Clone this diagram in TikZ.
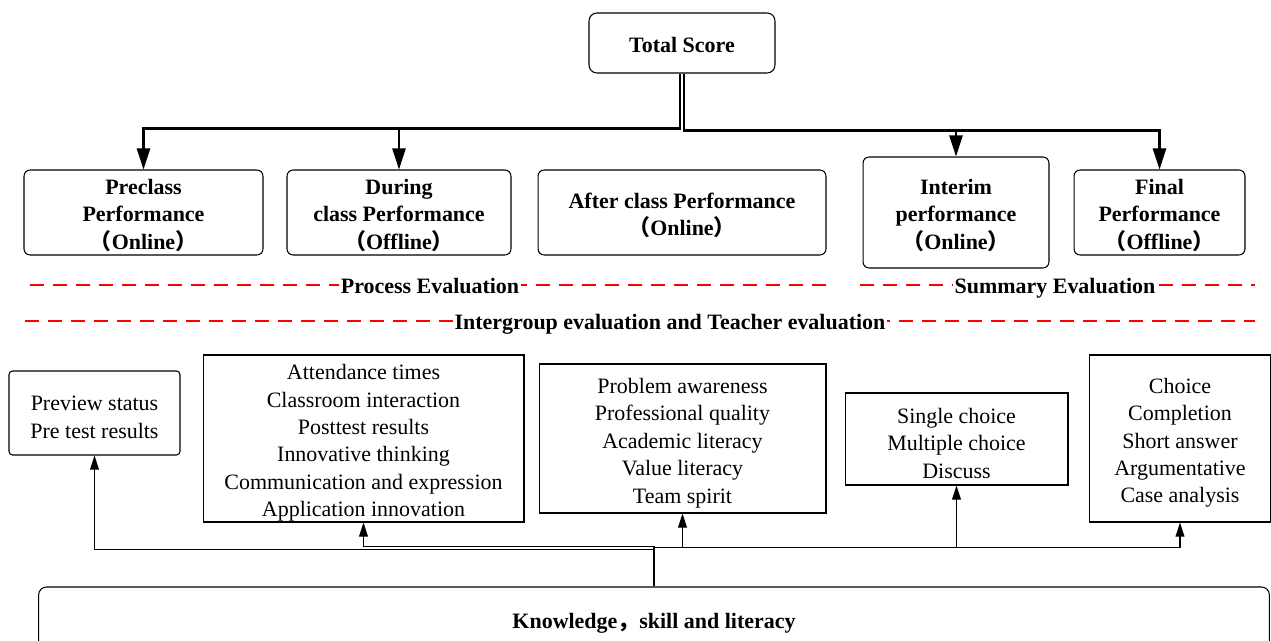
\documentclass[tikz,border=0pt]{standalone}
\usepackage{fontspec}
\setmainfont{Liberation Serif}
\newfontfamily\cjk{Noto Sans CJK SC}
\usetikzlibrary{arrows.meta, positioning}
\newcommand{\figfont}{\fontsize{12.5pt}{15.6pt}\selectfont}
\newcommand{\flp}{{\cjk （}}
\newcommand{\frp}{{\cjk ）}}
% taller first line, so the lines sit a little low in their box
\newcommand{\textdrop}[1]{\rule{0pt}{#1}}
\tikzset{%
  sink/.style={execute at begin node={\rule{0pt}{#1}}},
  topblock/.style={rectangle, draw, line width=0.6pt, rounded corners=3.5pt, align=center, inner sep=0pt, font=\figfont\bfseries},
  listblock/.style={rectangle, draw, line width=0.6pt, align=center, inner sep=0pt, font=\figfont},
  banner/.style={fill=white, inner sep=1pt, font=\figfont\bfseries},
  redline/.style={draw, red, line width=1.1pt, dash pattern=on 0.28cm off 0.18cm},
  trunk/.style={draw, line width=1.2pt, -{Triangle[length=12pt, width=7.5pt]}},
  upline/.style={draw, line width=0.6pt, -{Triangle[length=8pt, width=5pt]}}}

\begin{document}
\begin{tikzpicture}[x=0.02cm, y=-0.02cm]
    \useasboundingbox (0,0) rectangle (1271,641);
    \clip (0,0) rectangle (1271,641);

    % score and the five parts
    \node [topblock, sink=10.9pt, rounded corners=4.5pt, minimum width=3.72cm, minimum height=1.2cm] (total) at (682,43) {Total Score};
    \node [topblock, minimum width=4.78cm, minimum height=1.7cm] (pre) at (143.5,212.5) {\textdrop{12pt}Preclass\\Performance\\\flp Online\frp};
    \node [topblock, minimum width=4.48cm, minimum height=1.7cm] (during) at (399,212.5) {\textdrop{12pt}During\\class Performance\\\flp Offline\frp};
    \node [topblock, minimum width=5.76cm, minimum height=1.7cm] (after) at (682,212.5) {\textdrop{12pt}After class Performance\\\flp Online\frp};
    \node [topblock, minimum width=3.72cm, minimum height=2.22cm] (interim) at (956,212.5) {\textdrop{12pt}Interim\\performance\\\flp Online\frp};
    \node [topblock, minimum width=3.42cm, minimum height=1.7cm] (final) at (1159.5,212.5) {\textdrop{12pt}Final\\Performance\\\flp Offline\frp};

    \foreach \b in {pre, during}
      \draw [trunk] ([xshift=-1.1pt]total.south) -- ++(0,55) -| (\b.north);
    \foreach \b in {interim, final}
      \draw [trunk] ([xshift=1.1pt]total.south) -- ++(0,57) -| (\b.north);

    % evaluation bands
    \coordinate (pl) at (30,285);
    \coordinate (pr) at (830,285);
    \coordinate (sl) at (860,285);
    \coordinate (sr) at (1255,285);
    \coordinate (il) at (25,321);
    \coordinate (ir) at (1255,321);
    \draw [redline] (pl) -- (pr);
    \draw [redline] (sl) -- (sr);
    \draw [redline] (il) -- (ir);
    \node [banner] (process) at (430,286) {Process Evaluation};
    \node [banner] (summary) at (1055,288) {Summary Evaluation};
    \node [banner] (inter) at (670,324) {Intergroup evaluation and Teacher evaluation};

    % what each part looks at
    \node [listblock, rounded corners=2pt, minimum width=3.42cm, minimum height=1.68cm] (prev) at (94.5,413) {\textdrop{13pt}Preview status\\Pre test results};
    \node [listblock, minimum width=6.42cm, minimum height=3.34cm] (att) at (363.5,438.5) {\textdrop{13.7pt}Attendance times\\Classroom interaction\\Posttest results\\Innovative thinking\\Communication and expression\\Application innovation};
    \node [listblock, minimum width=5.74cm, minimum height=2.98cm] (prob) at (682.5,438.5) {\textdrop{13.7pt}Problem awareness\\Professional quality\\Academic literacy\\Value literacy\\Team spirit};
    \node [listblock, minimum width=4.46cm, minimum height=1.84cm] (single) at (956.5,439) {\textdrop{13.7pt}Single choice\\Multiple choice\\Discuss};
    \node [listblock, minimum width=3.64cm, minimum height=3.34cm] (choice) at (1180,438.5) {\textdrop{13.7pt}Choice\\Completion\\Short answer\\Argumentative\\Case analysis};

    \node [topblock, sink=12pt, rounded corners=4.5pt, minimum width=24.62cm, minimum height=1.32cm] (base) at (654,620) {Knowledge{\cjk ，}skill and literacy};

    \foreach \b/\r in {prev/-37, att/-40, prob/-39, single/-39, choice/-39}
      \draw [upline] (base.north) -- ++(0,\r) -| (\b.south);
  \end{tikzpicture}
\end{document}
